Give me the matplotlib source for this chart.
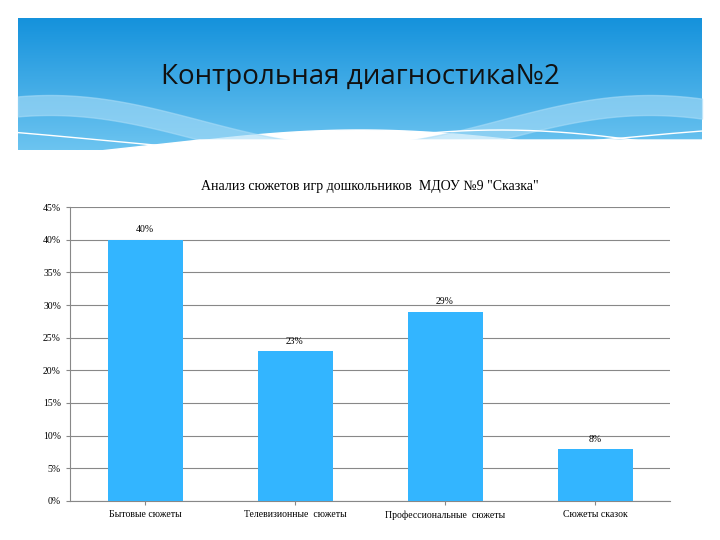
import numpy as np
import matplotlib
matplotlib.use("Agg")
import matplotlib.pyplot as plt
from matplotlib.patches import Polygon

categories = ["Бытовые сюжеты", "Телевизионные  сюжеты", "Профессиональные  сюжеты", "Сюжеты сказок"]
values = [40, 23, 29, 8]
yticks = [0, 5, 10, 15, 20, 25, 30, 35, 40, 45]

fig = plt.figure(figsize=(7.2, 5.4), dpi=100)
# header background
bg = fig.add_axes([0, 0, 1, 1], zorder=0)
bg.set_xlim(0, 720); bg.set_ylim(540, 0); bg.axis("off")
grad = np.linspace(0, 1, 100).reshape(-1, 1)
from matplotlib.colors import LinearSegmentedColormap
cm = LinearSegmentedColormap.from_list("b", ["#1592dc", "#6cc4f0"])
bg.imshow(grad, cmap=cm, extent=[18, 702, 150, 18], aspect="auto", zorder=0)
x = np.linspace(18, 702, 200)
top = 150 - 30 * np.sin((x - 18) / 684 * np.pi) ** 1.5 + 10
bg.add_patch(Polygon(np.c_[np.r_[x, x[::-1]], np.r_[top, np.full_like(x, 170)]], color="white", zorder=1))
w2 = 120 + 25 * np.sin((x - 200) / 300 * np.pi)
bg.fill_between(x, w2, w2 + 20, color="#a8dcf7", alpha=0.6, zorder=1)
bg.plot(x, 150 - 20 * np.sin((x - 300) / 400 * np.pi), color="white", lw=1, zorder=2)
bg.plot(x, 140 + 15 * np.sin((x - 100) / 500 * np.pi), color="white", lw=1, zorder=2)
bg.add_patch(Polygon([[18, 150], [18, 160], [200, 140], [720, 140], [720, 200], [18, 200]], color="white", zorder=1))
bg.text(360, 77, "Контрольная диагностика№2", ha="center", va="center", fontsize=20, family="Open Sans", color="#111", zorder=3)

ax = fig.add_axes([70/720, 1-501/540, 600/720, 294/540], zorder=2)
ax.bar(range(len(values)), values, width=0.5, color="#33b5ff", zorder=3)
for i, v in enumerate(values):
    ax.text(i, v + 0.8, f"{v}%", ha="center", va="bottom", fontsize=7, family="Liberation Serif")
ax.set_xlim(-0.5, 3.5); ax.set_ylim(0, 45)
ax.set_yticks(yticks)
ax.set_yticklabels([f"{t}%" for t in yticks], fontsize=7, family="Liberation Serif")
ax.set_xticks(range(len(values)))
ax.set_xticklabels(categories, fontsize=7, family="Liberation Serif")
ax.grid(axis="y", color="#888", lw=0.8, zorder=0)
for s in ["top", "right"]:
    ax.spines[s].set_visible(False)
ax.spines["left"].set_color("#888"); ax.spines["bottom"].set_color("#888")
ax.tick_params(length=3, color="#888")
ax.set_title('Анализ сюжетов игр дошкольников  МДОУ №9 "Сказка"', fontsize=10, family="Liberation Serif", pad=12)
fig.savefig("out.png", dpi=100)
